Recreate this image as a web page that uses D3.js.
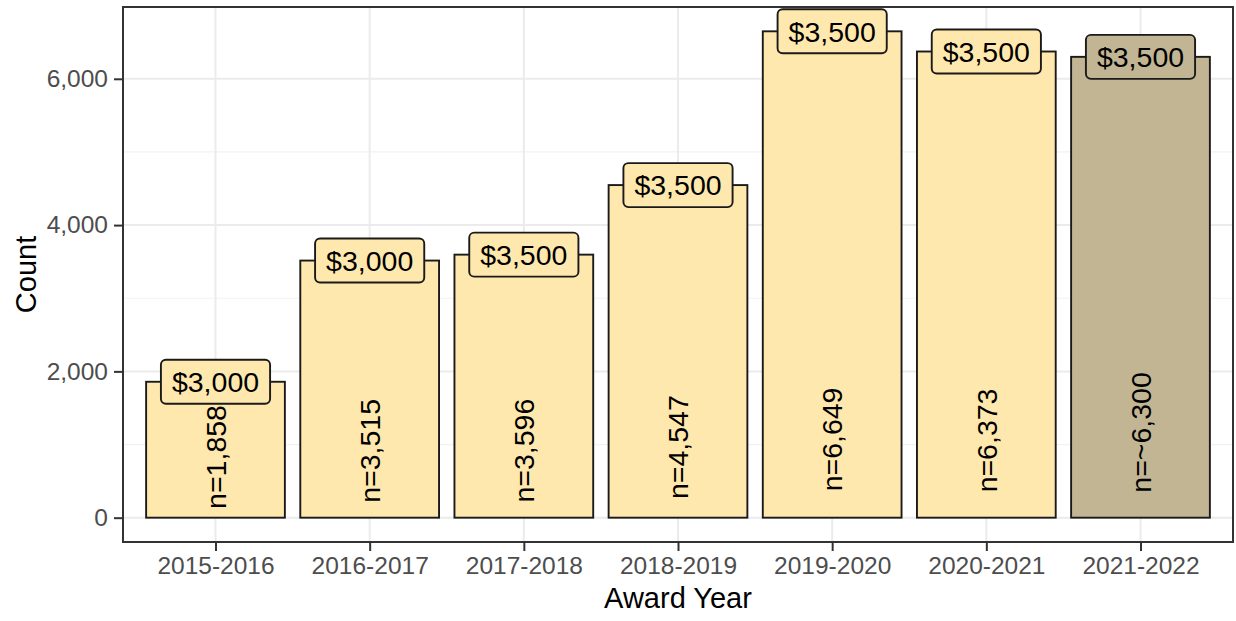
<!DOCTYPE html>
<html>
<head>
<meta charset="utf-8">
<script src="https://cdn.jsdelivr.net/npm/d3@7"></script>
<style>
  html, body { margin: 0; padding: 0; background: #fff; }
  svg { display: block; font-family: "Liberation Sans", Arial, sans-serif; }
</style>
</head>
<body>
<svg id="chart" width="1236" height="621"></svg>
<script>
// ---- data ----
const years = ["2015-2016","2016-2017","2017-2018","2018-2019","2019-2020","2020-2021","2021-2022"];
const counts = [1858, 3515, 3596, 4547, 6649, 6373, 6300];
const countLabels = ["n=1,858","n=3,515","n=3,596","n=4,547","n=6,649","n=6,373","n=~6,300"];
const awards = ["$3,000","$3,000","$3,500","$3,500","$3,500","$3,500","$3,500"];
const estimated = [false, false, false, false, false, false, true];
const yTicks = [0, 2000, 4000, 6000];
const yMinor = [1000, 3000, 5000];

const data = years.map((y, i) => ({year: y, count: counts[i], n: countLabels[i], award: awards[i], est: estimated[i]}));

const panel = {left: 123, right: 1233, top: 7, bottom: 542};

const svg = d3.select("#chart");

// ggplot-like discrete scale: expansion of 0.6 units each side, bar width 0.9
const unit = (panel.right - panel.left) / (years.length - 1 + 1.2);
const x = d3.scalePoint()
  .domain(years)
  .range([panel.left + 0.6 * unit, panel.right - 0.6 * unit]);
const barW = 0.9 * unit;

// ggplot-like continuous expansion (5%)
const maxC = d3.max(counts);
const ex = maxC * 0.05;
const y = d3.scaleLinear().domain([-ex, maxC + ex]).range([panel.bottom, panel.top]);

const fillMain = "#FFE8AD";
const fillEst = "#C1B593";
const strokeC = "#1a1a1a";
const strokeW = 1.9;

// grid
const grid = svg.append("g");
grid.selectAll(".minor").data(yMinor).join("line")
  .attr("x1", panel.left).attr("x2", panel.right)
  .attr("y1", d => y(d)).attr("y2", d => y(d))
  .attr("stroke", "#F2F2F2").attr("stroke-width", 1.2);
grid.selectAll(".major").data(yTicks).join("line")
  .attr("x1", panel.left).attr("x2", panel.right)
  .attr("y1", d => y(d)).attr("y2", d => y(d))
  .attr("stroke", "#EBEBEB").attr("stroke-width", 2);
grid.selectAll(".vmajor").data(years).join("line")
  .attr("x1", d => x(d)).attr("x2", d => x(d))
  .attr("y1", panel.top).attr("y2", panel.bottom)
  .attr("stroke", "#EBEBEB").attr("stroke-width", 2);

// bars
svg.append("g").selectAll("rect").data(data).join("rect")
  .attr("x", d => x(d.year) - barW / 2)
  .attr("width", barW)
  .attr("y", d => y(d.count))
  .attr("height", d => y(0) - y(d.count))
  .attr("fill", d => d.est ? fillEst : fillMain)
  .attr("stroke", strokeC).attr("stroke-width", strokeW);

// n labels (rotated)
const fs = 28.5;
svg.append("g").selectAll("text").data(data).join("text")
  .attr("transform", d => `translate(${x(d.year) + fs * 0.36},${y(d.count * 0.05) - 2}) rotate(-90)`)
  .attr("text-anchor", "start")
  .attr("font-size", fs)
  .attr("fill", "#000")
  .text(d => d.n);

// award labels (geom_label)
const lab = svg.append("g").selectAll("g").data(data).join("g")
  .attr("transform", d => `translate(${x(d.year)},${y(d.count)})`);
lab.append("rect").attr("class", "box");
lab.append("text")
  .attr("text-anchor", "middle")
  .attr("dy", "0.36em")
  .attr("font-size", fs)
  .attr("fill", "#000")
  .text(d => d.award);
lab.each(function(d) {
  const g = d3.select(this);
  const bb = g.select("text").node().getBBox();
  const w = bb.width + 22, h = 44;
  g.select("rect")
    .attr("x", -w / 2).attr("y", -h / 2)
    .attr("width", w).attr("height", h)
    .attr("rx", 5).attr("ry", 5)
    .attr("fill", d.est ? fillEst : fillMain)
    .attr("stroke", strokeC).attr("stroke-width", strokeW);
});

// panel border
svg.append("rect").attr("x", panel.left).attr("y", panel.top)
  .attr("width", panel.right - panel.left).attr("height", panel.bottom - panel.top)
  .attr("fill", "none").attr("stroke", "#333333").attr("stroke-width", 2);

// y axis
const yAxis = d3.axisLeft(y).tickValues(yTicks).tickSize(9).tickPadding(6)
  .tickFormat(d3.format(","));
const gy = svg.append("g").attr("transform", `translate(${panel.left},0)`).call(yAxis);
gy.select(".domain").remove();
gy.selectAll(".tick line").attr("stroke", "#333333").attr("stroke-width", 2);
gy.selectAll(".tick text").attr("font-size", 24.5).attr("fill", "#4D4D4D")
  .attr("font-family", "Liberation Sans, Arial, sans-serif");

// x axis
const xAxis = d3.axisBottom(x).tickSize(9).tickPadding(6);
const gx = svg.append("g").attr("transform", `translate(0,${panel.bottom})`).call(xAxis);
gx.select(".domain").remove();
gx.selectAll(".tick line").attr("stroke", "#333333").attr("stroke-width", 2);
gx.selectAll(".tick text").attr("font-size", 24.5).attr("fill", "#4D4D4D")
  .attr("font-family", "Liberation Sans, Arial, sans-serif");

// axis titles
svg.append("text")
  .attr("x", (panel.left + panel.right) / 2).attr("y", 608)
  .attr("text-anchor", "middle").attr("font-size", 29).attr("fill", "#000")
  .text("Award Year");
svg.append("text")
  .attr("transform", `translate(36,${(panel.top + panel.bottom) / 2}) rotate(-90)`)
  .attr("text-anchor", "middle").attr("font-size", 29).attr("fill", "#000")
  .text("Count");
</script>
</body>
</html>
